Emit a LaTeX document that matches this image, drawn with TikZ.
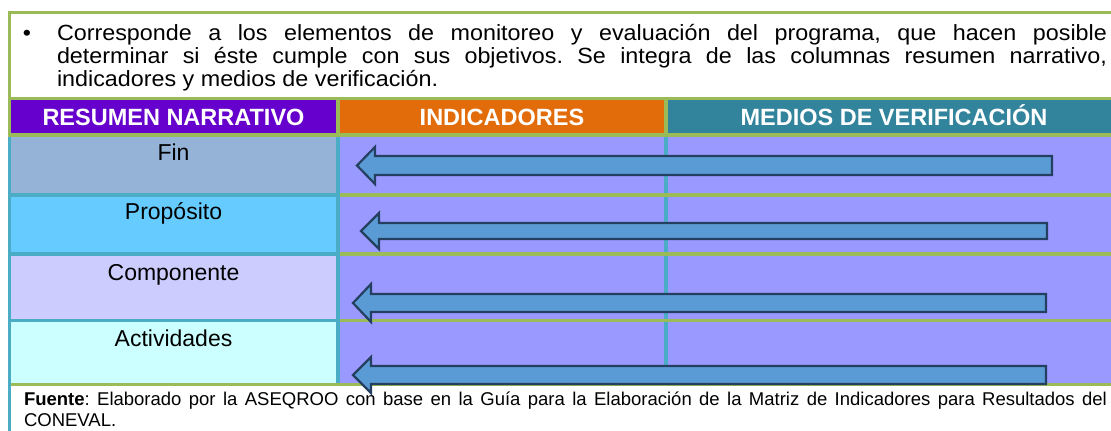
\documentclass[tikz,border=0pt]{standalone}
\usepackage{fontspec}
\setmainfont{Liberation Sans}
\newfontfamily\introfont{Liberation Sans}[FakeStretch=1.06]
\frenchspacing
\definecolor{frameg}{HTML}{9BBB59}
\definecolor{bordt}{HTML}{4BACC6}
\definecolor{hpurple}{HTML}{6600CC}
\definecolor{horange}{HTML}{E36C0A}
\definecolor{hteal}{HTML}{31849B}
\definecolor{cfin}{HTML}{95B3D7}
\definecolor{cprop}{HTML}{66CCFF}
\definecolor{ccomp}{HTML}{CCCCFF}
\definecolor{cact}{HTML}{CCFFFF}
\definecolor{cright}{HTML}{9999FF}
\definecolor{arrfill}{HTML}{5B9BD5}
\definecolor{arrline}{HTML}{243F60}
\tikzset{
  headtxt/.style={text=white,font=\fontsize{23.5}{26}\selectfont\bfseries,inner sep=0pt,anchor=base},
  celltxt/.style={text=black,font=\fontsize{23}{26}\selectfont,inner sep=0pt,anchor=base},
  blockarrow/.style={fill=arrfill,draw=arrline,line width=2.2pt,line join=miter},
}
\begin{document}
\begin{tikzpicture}[x=1pt,y=-1pt]
\useasboundingbox (0,0) rectangle (1111,431);
% frame lines
\fill[frameg] (8,11) rectangle (1111,14);
\fill[frameg] (8,11) rectangle (11,137);
\fill[frameg] (8,97) rectangle (1111,100);
% header
\fill[hpurple] (11,100) rectangle (336,133);
\fill[frameg] (336,100) rectangle (340,133);
\fill[horange] (340,100) rectangle (664,133);
\fill[frameg] (664,100) rectangle (668,133);
\fill[hteal] (668,100) rectangle (1111,133);
\fill[frameg] (8,133) rectangle (1111,137);
% body cells
\fill[cright] (340,137) rectangle (1111,383);
\fill[cfin] (11,137) rectangle (336,193);
\fill[cprop] (11,197) rectangle (336,252);
\fill[ccomp] (11,256) rectangle (336,319);
\fill[cact] (11,322) rectangle (336,383);
% separators
\fill[bordt] (8,137) rectangle (11,431);
\fill[bordt] (11,193) rectangle (336,197);
\fill[bordt] (11,252) rectangle (336,256);
\fill[bordt] (11,319) rectangle (336,322);
\fill[bordt] (336,137) rectangle (340,383);
\fill[bordt] (664,137) rectangle (668,383);
\fill[frameg] (340,193) rectangle (1111,197);
\fill[frameg] (340,252) rectangle (1111,256);
\fill[frameg] (340,319) rectangle (1111,322);
\fill[frameg] (11,383) rectangle (1111,386);
% intro paragraph
\node[inner sep=0pt,anchor=base] (bul) at (27,40) {\introfont\fontsize{22}{23}\selectfont •};
\node[inner sep=0pt,outer sep=0pt,anchor=north west,text width=1050pt,align=justify,
  font=\introfont\fontsize{22}{23}\selectfont] (intro) at (57,17)
  {\rule{0pt}{23pt}Corresponde a los elementos de monitoreo y evaluación del programa, que hacen posible\linebreak
   determinar si éste cumple con sus objetivos. Se integra de las columnas resumen narrativo,\linebreak
   indicadores y medios de verificación.};
% headers
\node[headtxt] (h1) at (173.5,125.5) {RESUMEN NARRATIVO};
\node[headtxt] (h2) at (502,125.5) {INDICADORES};
\node[headtxt] (h3) at (894,125.5) {MEDIOS DE VERIFICACIÓN};
% cells
\node[celltxt] (fin) at (173.5,160) {Fin};
\node[celltxt] (prop) at (173.5,219) {Propósito};
\node[celltxt] (comp) at (173.5,280) {Componente};
\node[celltxt] (act) at (173.5,346) {Actividades};
% arrows
\draw[blockarrow] (357,165.5) -- (375,147) -- (375,156) -- (1052,156) -- (1052,175) -- (375,175) -- (375,184) -- cycle;
\draw[blockarrow] (361,231) -- (379,213) -- (379,223) -- (1047,223) -- (1047,239) -- (379,239) -- (379,249) -- cycle;
\draw[blockarrow] (353,303) -- (371,284) -- (371,294) -- (1046,294) -- (1046,312) -- (371,312) -- (371,322) -- cycle;
\draw[blockarrow] (353,375) -- (371,357) -- (371,366) -- (1046,366) -- (1046,384) -- (371,384) -- (371,393) -- cycle;
% footer
\node[inner sep=0pt,outer sep=0pt,anchor=north west,text width=1083pt,align=justify,
  font=\fontsize{18.5}{21}\selectfont] (foot) at (24,385)
  {\rule{0pt}{20pt}\textbf{Fuente}: Elaborado por la ASEQROO con base en la Guía para la Elaboración de la Matriz de Indicadores para Resultados del\linebreak
   CONEVAL.};
\end{tikzpicture}
\end{document}
